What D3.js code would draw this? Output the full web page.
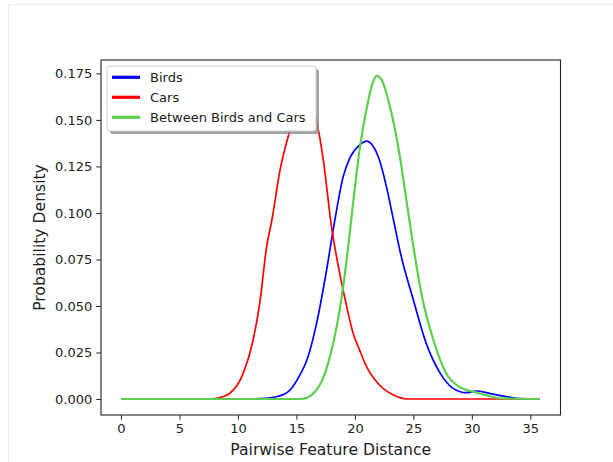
<!DOCTYPE html>
<html>
<head>
<meta charset="utf-8">
<script src="https://cdn.jsdelivr.net/npm/d3@7"></script>
<style>
  body { margin: 0; background: #fff; }
  text { font-family: "DejaVu Sans", sans-serif; fill: #222; }
</style>
</head>
<body>
<svg id="chart"></svg>
<script>
  const W = 613, H = 462;
  const margin = {top: 60, right: 52.5, bottom: 47, left: 101},
        width = W - margin.left - margin.right,
        height = H - margin.top - margin.bottom;

  // series
  const birdsX = [0, 10, 11.9, 13.3, 14.4, 15.3, 15.9, 16.7, 17.6, 18.2, 19.0, 19.6, 20.4, 21.0, 21.5, 22.1, 22.7, 23.3, 23.9, 25.0, 26.1, 27.3, 28.4, 29.5, 30.4, 31.5, 33.0, 34.1, 35.8];
  const birdsY = [0, 0, 0.0002, 0.0012, 0.0045, 0.013, 0.021, 0.040, 0.070, 0.093, 0.1195, 0.130, 0.1365, 0.1386, 0.1364, 0.1284, 0.114, 0.0962, 0.0783, 0.0532, 0.0299, 0.0138, 0.0057, 0.0034, 0.0043, 0.0030, 0.0012, 0.0002, 0];

  const carsX = [0, 7.5, 8.2, 9.3, 10.45, 11.3, 11.9, 12.45, 12.9, 13.6, 14.45, 15.1, 15.7, 16.2, 16.7, 17.3, 18.0, 18.7, 19.3, 19.85, 20.4, 21.0, 22.1, 23.3, 24.4, 35.8];
  const carsY = [0, 0, 0.0004, 0.0031, 0.0138, 0.0317, 0.0532, 0.0818, 0.0962, 0.1231, 0.1445, 0.158, 0.163, 0.160, 0.150, 0.1284, 0.0926, 0.0675, 0.0496, 0.0353, 0.0263, 0.0174, 0.0075, 0.0021, 0, 0];

  const betweenX = [0, 15.3, 16.0, 16.6, 17.2, 17.7, 18.15, 18.7, 19.3, 19.86, 20.4, 21.0, 21.5, 21.85, 22.3, 23.0, 23.85, 24.4, 25.0, 25.8, 26.7, 27.8, 28.9, 30.1, 31.2, 32.4, 35.8];
  const betweenY = [0, 0, 0.001, 0.004, 0.010, 0.019, 0.030, 0.048, 0.075, 0.106, 0.134, 0.156, 0.1695, 0.1737, 0.1714, 0.157, 0.1302, 0.107, 0.0819, 0.0532, 0.032, 0.0138, 0.0066, 0.0039, 0.0021, 0.0004, 0];

  const seriesNames = ["Birds", "Cars", "Between Birds and Cars"];
  const seriesColors = ["#0000ff", "#ff0000", "#5ccf4c"];
  const xTicks = [0, 5, 10, 15, 20, 25, 30, 35];
  const yTicks = [0, 0.025, 0.05, 0.075, 0.1, 0.125, 0.15, 0.175];

  const series = [
    {name: seriesNames[0], color: seriesColors[0], data: birdsX.map((v, i) => ({x: v, y: birdsY[i]}))},
    {name: seriesNames[1], color: seriesColors[1], data: carsX.map((v, i) => ({x: v, y: carsY[i]}))},
    {name: seriesNames[2], color: seriesColors[2], data: betweenX.map((v, i) => ({x: v, y: betweenY[i]}))}
  ];

  let x = d3.scaleLinear().domain([-1.71, 37.58]).range([0, width]);
  let y = d3.scaleLinear().domain([-0.0086, 0.1822]).range([height, 0]);

  let svg = d3.select("#chart")
              .attr("width", W)
              .attr("height", H);

  // faint figure frame
  svg.append("rect")
     .attr("x", 8.5).attr("y", 4.5)
     .attr("width", W).attr("height", H)
     .style("fill", "none")
     .style("stroke", "#ececec");

  let chart = svg.append("g")
                 .attr("transform", "translate(" + margin.left + "," + margin.top + ")");

  // x-Axis
  let gx = chart.append("g")
       .attr("transform", "translate(0," + height + ")")
       .call(d3.axisBottom(x).tickValues(xTicks).tickSize(4.7).tickPadding(4).tickFormat(d3.format("d")));

  // y-Axis
  let gy = chart.append("g")
       .call(d3.axisLeft(y).tickValues(yTicks).tickSize(4.7).tickPadding(4).tickFormat(d3.format(".3f")));

  [gx, gy].forEach(g => {
    g.select(".domain").remove();
    g.selectAll("line").attr("stroke", "#222").attr("stroke-width", 1);
    g.selectAll("text").style("font-size", "13px").style("font-family", "DejaVu Sans").attr("fill", "#222");
  });

  let line = d3.line()
               .x((d) => x(d.x))
               .y((d) => y(d.y))
               .curve(d3.curveMonotoneX);

  series.forEach(s => {
    chart.append("path")
         .datum(s.data)
         .attr("d", line)
         .style("fill", "none")
         .style("stroke", s.color)
         .style("stroke-width", s.name === seriesNames[2] ? 2.2 : 1.7)
         .style("stroke-linejoin", "round");
  });

  // Border
  chart.append("rect")
       .attr("width", width)
       .attr("height", height)
       .style("fill", "none")
       .style("stroke", "#222")
       .style("stroke-width", 1.1);

  // Axis labels
  chart.append("text")
       .attr("text-anchor", "middle")
       .attr("x", width / 2)
       .attr("y", height + 40)
       .style("font-size", "15.6px")
       .text("Pairwise Feature Distance");

  chart.append("text")
       .attr("text-anchor", "middle")
       .attr("transform", "translate(" + (-56) + "," + (height / 2) + ") rotate(-90)")
       .style("font-size", "15.6px")
       .text("Probability Density");

  // Legend
  let legend = chart.append("g").attr("transform", "translate(6,6)");
  const lw = 209, lh = 65;
  legend.append("rect")
        .attr("x", 3).attr("y", 3)
        .attr("width", lw).attr("height", lh)
        .attr("rx", 3)
        .style("fill", "#8a8a8a")
        .style("opacity", 0.8);
  legend.append("rect")
        .attr("width", lw).attr("height", lh)
        .attr("rx", 3)
        .style("fill", "#fff")
        .style("stroke", "#d0d0d0")
        .style("stroke-width", 1);
  series.forEach((s, i) => {
    let row = legend.append("g").attr("transform", "translate(0," + (11.3 + i * 20) + ")");
    row.append("line")
       .attr("x1", 5).attr("x2", 33)
       .attr("stroke", s.color)
       .attr("stroke-width", 3.2);
    row.append("text")
       .attr("x", 43)
       .attr("dy", "0.35em")
       .style("font-size", "13px")
       .text(s.name);
  });
</script>
</body>
</html>
